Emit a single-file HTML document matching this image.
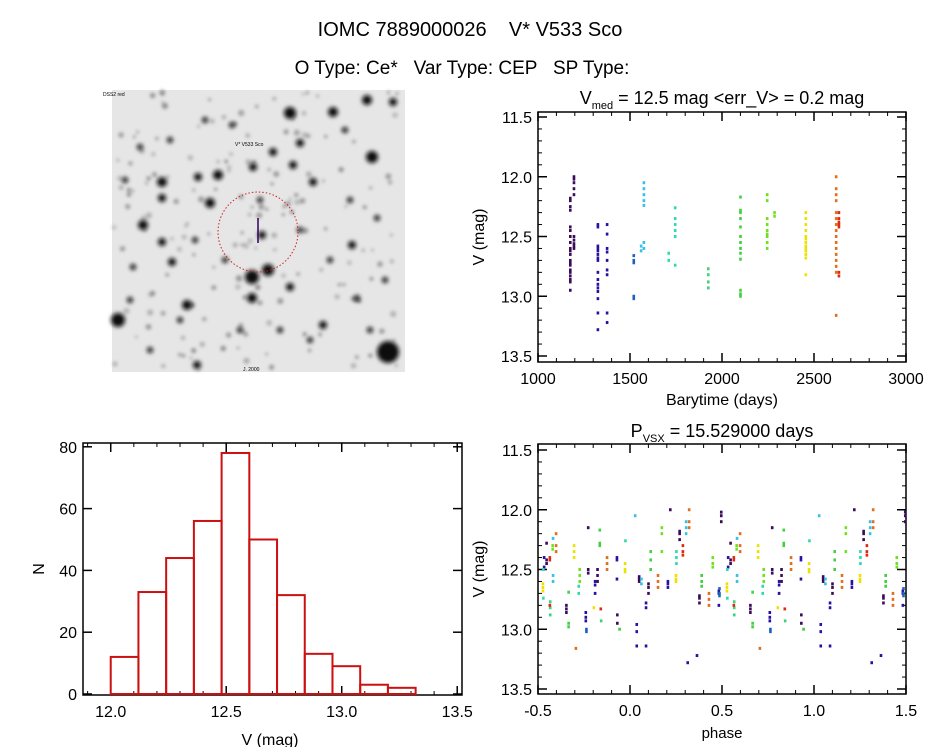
<!DOCTYPE html>
<html><head><meta charset="utf-8">
<style>
html,body{margin:0;padding:0;background:#fff;}
svg text{font-family:"Liberation Sans",sans-serif;fill:#000;white-space:pre;}
</style></head>
<body>
<svg id="fig" width="944" height="747" xmlns="http://www.w3.org/2000/svg">
<defs><filter id="bl" x="-50%" y="-50%" width="200%" height="200%"><feGaussianBlur stdDeviation="2.2"/></filter>
<filter id="bl2" x="-50%" y="-50%" width="200%" height="200%"><feGaussianBlur stdDeviation="1.6"/></filter></defs>
<text x="470" y="36" font-size="20" text-anchor="middle" xml:space="preserve">IOMC 7889000026    V* V533 Sco</text>
<text x="462" y="74" font-size="19" text-anchor="middle" xml:space="preserve">O Type: Ce*   Var Type: CEP   SP Type:</text>
<g id="img"></g>
<g id="lc"></g>
<g id="ph"></g>
<g id="hist"></g>
</svg>
<script>
// ---- data ----
const seasonTimes = [
 [1175,1175,1175,1175,1175,1175,1175,1175,1175,1175,1175,1175,1175,1175,1175,1175,1175,1175,1175,1175,1195,1195,1195,1195,1195,1195,1195,1195,1195,1195],
 [1325,1325,1325,1325,1325,1325,1325,1325,1325,1325,1325,1325,1325,1325,1325,1325,1375,1375,1375,1375,1375,1375,1375,1375,1375],
 [1520,1520,1520,1520,1520],
 [1560,1560,1575,1575,1575,1575,1575,1575,1575],
 [1710,1710,1745,1745,1745,1745,1745,1745],
 [1925,1925,1925,1925],
 [2100,2100,2100,2100,2100,2100,2100,2100,2100,2100,2100,2100,2100],
 [2245,2245,2245,2245,2245,2245,2245,2245,2245,2285,2285],
 [2455,2455,2455,2455,2455,2455,2455,2455,2455,2455,2455,2455,2455],
 [2620,2620,2620,2620,2620,2620,2620,2620,2620,2620,2620,2620,2620,2620,2620,2620],
 [2635,2635,2635,2635,2635,2635,2635]
];
const seasonMags = [
 [12.18,12.2,12.25,12.28,12.42,12.45,12.5,12.55,12.6,12.62,12.65,12.7,12.72,12.74,12.78,12.8,12.83,12.86,12.88,12.95,12.0,12.02,12.05,12.1,12.15,12.5,12.53,12.56,12.58,12.6],
 [12.4,12.42,12.58,12.6,12.62,12.65,12.68,12.7,12.8,12.86,12.9,12.93,12.96,13.02,13.14,13.28,12.4,12.48,12.6,12.63,12.7,12.78,12.82,13.14,13.22],
 [12.66,12.7,12.72,13.0,13.02],
 [12.58,12.62,12.05,12.1,12.15,12.2,12.24,12.55,12.6],
 [12.64,12.7,12.26,12.35,12.4,12.45,12.5,12.74],
 [12.77,12.82,12.88,12.93],
 [12.17,12.28,12.3,12.35,12.42,12.5,12.55,12.6,12.64,12.69,12.95,12.98,13.0],
 [12.15,12.2,12.35,12.4,12.45,12.48,12.5,12.55,12.6,12.3,12.33],
 [12.3,12.35,12.4,12.45,12.5,12.52,12.55,12.58,12.6,12.62,12.65,12.68,12.82],
 [12.0,12.1,12.15,12.2,12.3,12.35,12.4,12.45,12.5,12.55,12.6,12.65,12.7,12.75,12.8,13.16],
 [12.3,12.35,12.38,12.4,12.42,12.8,12.83]
];
const seasonColors = ["#3c0a5a","#2a10a0","#2060c0","#38c0e8","#30d8b0","#40d080","#40d040","#70e020","#f0e000","#e07020","#e02a10"];
const period = 15.529;
const histEdges = [12.0,12.12,12.24,12.36,12.48,12.6,12.72,12.84,12.96,13.08,13.2,13.32];
const histCounts = [12,33,44,56,78,50,32,13,9,3,2];
const lcXTicks = [1000,1500,2000,2500,3000];
const magTicks = [11.5,12.0,12.5,13.0,13.5];
const phaseTicks = [-0.5,0.0,0.5,1.0,1.5];
const histXTicks = [12.0,12.5,13.0,13.5];
const histYTicks = [0,20,40,60,80];

const NS="http://www.w3.org/2000/svg";
function mk(tag,attrs,parent,txt){const e=document.createElementNS(NS,tag);for(const k in attrs)e.setAttribute(k,attrs[k]);if(txt!==undefined)e.textContent=txt;parent.appendChild(e);return e;}

function axes(g,x0,x1,y0,y1,xs,ys,xmaj,xmin,ymaj,ymin,xfmt,yfmt,name){
  const fr=mk('rect',{x:x0,y:y0,width:x1-x0,height:y1-y0,fill:'none',stroke:'#000','stroke-width':1.5},g);
  
  
  xmin.forEach(v=>{const X=xs(v);mk('line',{x1:X,x2:X,y1:y1,y2:y1-4,stroke:'#000'},g);mk('line',{x1:X,x2:X,y1:y0,y2:y0+4,stroke:'#000'},g);});
  xmaj.forEach(v=>{const X=xs(v);mk('line',{x1:X,x2:X,y1:y1,y2:y1-9,stroke:'#000','stroke-width':1.5},g);mk('line',{x1:X,x2:X,y1:y0,y2:y0+9,stroke:'#000','stroke-width':1.5},g);
    const t=mk('text',{x:X,y:y1+22,'font-size':16,'text-anchor':'middle'},g,xfmt(v));
    
    });
  ymin.forEach(v=>{const Y=ys(v);mk('line',{x1:x0,x2:x0+4,y1:Y,y2:Y,stroke:'#000'},g);mk('line',{x1:x1,x2:x1-4,y1:Y,y2:Y,stroke:'#000'},g);});
  ymaj.forEach(v=>{const Y=ys(v);mk('line',{x1:x0,x2:x0+9,y1:Y,y2:Y,stroke:'#000','stroke-width':1.5},g);mk('line',{x1:x1,x2:x1-9,y1:Y,y2:Y,stroke:'#000','stroke-width':1.5},g);
    const t=mk('text',{x:x0-6,y:Y+6,'font-size':16,'text-anchor':'end'},g,yfmt(v));
    
    });
}
function rng(a,b,s){const r=[];for(let v=a;v<=b+1e-9;v+=s)r.push(Math.round(v*1000)/1000);return r;}

// ---- light curve ----
(function(){
  const g=document.getElementById('lc');
  const x0=538,x1=906,y0=112,y1=362;
  const xs=v=>538+(v-1000)/2000*368;
  const ys=v=>117+(v-11.5)/2*239;
  axes(g,x0,x1,y0,y1,xs,ys,lcXTicks,rng(1000,3000,100),magTicks,rng(11.5,13.5,0.1),v=>String(v),v=>v.toFixed(1),'lc');
  seasonTimes.forEach((ts,s)=>ts.forEach((t,i)=>{
    const r=mk('rect',{x:xs(t)-1.2,y:ys(seasonMags[s][i])-1.5,width:2.6,height:3,fill:seasonColors[s]},g);
    
    
  }));
  const tt=mk('text',{x:722,y:104,'font-size':18,'text-anchor':'middle'},g,'');
  tt.innerHTML='V<tspan font-size="11" dy="5">med</tspan><tspan dy="-5"> = 12.5 mag &lt;err_V&gt; = 0.2 mag</tspan>';
  
  
  const xl=mk('text',{x:722,y:405,'font-size':16,'text-anchor':'middle'},g,'Barytime (days)');
  
  
  const yl=mk('text',{x:0,y:0,'font-size':16,'text-anchor':'middle',transform:'translate(484,237) rotate(-90)'},g,'V (mag)');
  
  
})();

// ---- phase plot ----
(function(){
  const g=document.getElementById('ph');
  const x0=538,x1=906,y0=444,y1=694;
  const xs=v=>538+(v+0.5)/2*368;
  const ys=v=>450+(v-11.5)/2*239;
  axes(g,x0,x1,y0,y1,xs,ys,phaseTicks,rng(-0.5,1.5,0.1),magTicks,rng(11.5,13.5,0.1),v=>v.toFixed(1),v=>v.toFixed(1),'phase');
  seasonTimes.forEach((ts,s)=>ts.forEach((t,i)=>{
    // points observed in nightly groups of 3
    const tj=t+Math.floor(i/3)*4.3;
    let p=(((tj-1000)/period)%1+1)%1;
    [p-1,p,p+1].forEach(q=>{
      if(q<-0.5||q>1.5)return;
      const r=mk('rect',{x:xs(q)-1.2,y:ys(seasonMags[s][i])-1.5,width:2.6,height:3,fill:seasonColors[s]},g);
      
      
    });
  }));
  const tt=mk('text',{x:722,y:437,'font-size':18,'text-anchor':'middle'},g,'');
  tt.innerHTML='P<tspan font-size="11" dy="5">VSX</tspan><tspan dy="-5"> = 15.529000 days</tspan>';
  
  
  const xl=mk('text',{x:722,y:738,'font-size':15,'text-anchor':'middle'},g,'phase');
  
  
  const yl=mk('text',{x:0,y:0,'font-size':16,'text-anchor':'middle',transform:'translate(484,569) rotate(-90)'},g,'V (mag)');
  
  
})();

// ---- histogram ----
(function(){
  const g=document.getElementById('hist');
  const x0=83,x1=462,y0=443,y1=695;
  const xs=v=>83+(v-11.88)*231;
  const ys=v=>694-v*3.09;
  axes(g,x0,x1,y0,y1,xs,ys,histXTicks,rng(11.9,13.5,0.1),histYTicks,[],v=>v.toFixed(1),v=>String(v),'hist');
  histCounts.forEach((c,i)=>{
    const a=xs(histEdges[i]),b=xs(histEdges[i+1]);
    const r=mk('rect',{x:a,y:ys(c),width:b-a,height:ys(0)-ys(c),fill:'none',stroke:'#cc1010','stroke-width':2},g);
    
    
  });
  const xl=mk('text',{x:270,y:745,'font-size':16,'text-anchor':'middle'},g,'V (mag)');
  
  
  const yl=mk('text',{x:0,y:0,'font-size':16,'text-anchor':'middle',transform:'translate(44,569) rotate(-90)'},g,'N');
  
  
})();

// ---- sky image ----
(function(){
  const g=document.getElementById('img');
  mk('rect',{x:112,y:90,width:293,height:282,fill:'#e6e6e6'},g);
  const faint=mk('g',{filter:'url(#bl2)'},g);
  // faint background stars on a grid-like scatter
  let seed=7;const rnd=()=>{seed=(seed*9301+49297)%233280;return seed/233280;};
  for(let k=0;k<170;k++){
    mk('circle',{cx:114+rnd()*289,cy:92+rnd()*278,r:1.5+rnd()*1.8,fill:'#777','fill-opacity':0.35+rnd()*0.4},faint);
  }
  const stars=[[290,113,6],[372,157,6],[143,225,5],[162,182,5],[162,198,4],[162,242,4],[210,203,5],[262,235,4],[252,277,7],[268,270,6],[252,298,5],[118,320,7],[388,352,11],[367,100,5],[333,112,5],[300,143,4],[273,152,4],[218,175,5],[198,177,4],[187,305,5],[290,287,4],[352,245,4],[393,102,4],[232,125,3],[253,167,4],[293,165,4],[172,262,4],[133,267,3],[323,325,4],[197,365,4],[140,147,3],[357,298,3],[313,182,4],[377,218,3],[240,330,3],[170,140,3],[205,120,3],[310,340,3],[350,200,3],[130,300,3],[225,260,3],[330,260,3],[280,330,3],[385,280,3],[150,350,3],[345,130,3],[260,200,3],[195,240,3],[300,230,3],[370,330,3],[125,180,3],[180,320,3]];
  const sg=mk('g',{filter:'url(#bl)'},g);
  stars.forEach(s=>mk('circle',{cx:s[0],cy:s[1],r:s[2],fill:'#111'},sg));
  mk('circle',{cx:258,cy:232,r:40,fill:'none',stroke:'#d02020','stroke-width':1,'stroke-dasharray':'1.5,2'},g);
  mk('line',{x1:258,x2:258,y1:218,y2:243,stroke:'#300060','stroke-width':1.5},g);
  mk('text',{x:235,y:146,'font-size':5,fill:'#d02020'},g,'V* V533 Sco');
  mk('text',{x:103,y:96,'font-size':5,fill:'#000080'},g,'DSS2 red');
  mk('text',{x:243,y:371,'font-size':5,fill:'#000080'},g,'J. 2000');
})();
</script>
</body></html>
